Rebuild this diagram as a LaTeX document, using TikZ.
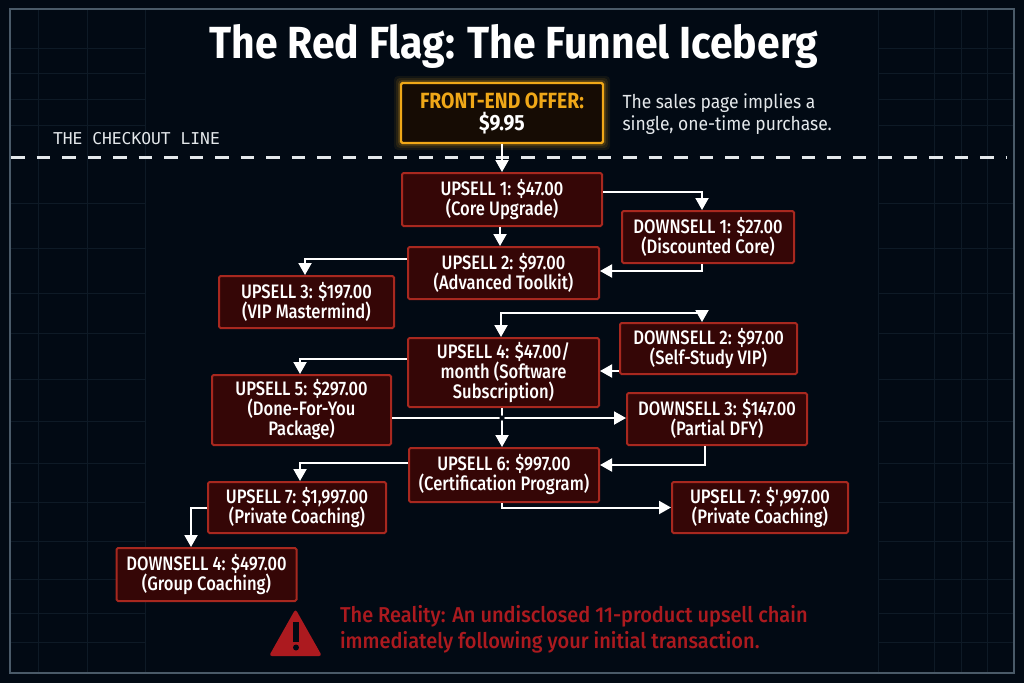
\documentclass[tikz,border=0pt]{standalone}
\usepackage{fontspec}
\setmainfont{Fira Sans}
\newfontfamily\titlefont[FakeStretch=0.91]{Fira Sans}
\newfontfamily\boxfont[FakeStretch=0.85,BoldFont={Fira Sans Medium}]{Fira Sans}
\newfontfamily\offerfont[FakeStretch=0.88]{Fira Sans}
\newfontfamily\sidefont[FakeStretch=0.92]{Fira Sans}
\newfontfamily\alertfont[FakeStretch=0.93,BoldFont={Fira Sans Medium}]{Fira Sans}
\setmonofont{DejaVu Sans Mono}
\usetikzlibrary{arrows.meta}
\definecolor{bgNavy}{HTML}{020A14}
\definecolor{gridLine}{HTML}{0E1A26}
\definecolor{frameLine}{HTML}{4A5A68}
\definecolor{boxFill}{HTML}{350606}
\definecolor{boxLine}{HTML}{A8281F}
\definecolor{offerFill}{HTML}{160C04}
\definecolor{offerLine}{HTML}{F0A818}
\definecolor{alertRed}{HTML}{AC1A1F}
\definecolor{sideGrey}{HTML}{E4E8EB}

\begin{document}
\begin{tikzpicture}[x=1pt,y=-1pt,
    sellbox/.style={draw=boxLine,fill=boxFill,line width=2pt,rounded corners=1.5pt,
      inner sep=0pt,align=center,text=white,
      font=\boxfont\bfseries\fontsize{19.5}{20}\selectfont},
    flow/.style={draw=white,line width=2pt,-{Triangle[length=12pt,width=13pt]}},
    gridrule/.style={draw=gridLine,line width=0.7pt}]
\useasboundingbox (0,0) rectangle (1024,683);
\fill[bgNavy] (0,0) rectangle (1024,683);

% --- Background grid panels ---
\foreach \gx in {38,87,145,878,934,961,987} {
  \draw[gridrule] (\gx,10) -- (\gx,672);
}
\foreach \gy in {48,73,99,125,203,248,293,333,379,421,463,502,541,579,613,642} {
  \draw[gridrule] (11,\gy) -- (145,\gy);
  \draw[gridrule] (878,\gy) -- (1013,\gy);
}
\draw[frameLine,line width=1.2pt] (10,9) rectangle (1014,673);

% --- Title and checkout line ---
\node[font=\titlefont\bfseries\fontsize{45}{48}\selectfont,text=white] (title) at (514,46)
    {The Red Flag: The Funnel Iceberg};
\node[font=\ttfamily\fontsize{16.3}{18}\selectfont,text=sideGrey,anchor=west] (checkout) at (49.5,139)
    {THE CHECKOUT LINE};
\coordinate (checkL) at (11,157.5);
\coordinate (checkR) at (1007,157.5);
\draw[sideGrey,line width=3pt,dash pattern=on 13.5pt off 12pt] (checkL) -- (checkR);

% --- Front-end offer ---
\foreach \glow/\gop in {14/0.07,10/0.10,6/0.16} {
  \fill[offerLine,opacity=\gop,rounded corners=4pt]
      (401-\glow/2,83-\glow/2) rectangle (603+\glow/2,143+\glow/2);
}
\node[draw=offerLine,fill=offerFill,line width=2.4pt,rounded corners=1.5pt,inner sep=0pt,
    minimum width=202pt,minimum height=60pt,align=center,text=white,
    font=\offerfont\bfseries\fontsize{22}{22}\selectfont] (offer) at (502,113)
    {\textcolor{offerLine}{FRONT-END OFFER:}\\\$9.95};
\node[font=\sidefont\fontsize{19}{22}\selectfont,text=sideGrey,anchor=west,align=left] (sidenote) at (619,114)
    {The sales page implies a\\single, one-time purchase.};

% --- Upsell and downsell boxes ---
\node[sellbox,minimum width=200pt,minimum height=53pt] (up1) at (502,199.5) {UPSELL 1: \$47.00\\(Core Upgrade)};
\node[sellbox,minimum width=172pt,minimum height=52pt] (dn1) at (708,237) {DOWNSELL 1: \$27.00\\(Discounted Core)};
\node[sellbox,minimum width=191pt,minimum height=52pt] (up2) at (503.5,273) {UPSELL 2: \$97.00\\(Advanced Toolkit)};
\node[sellbox,minimum width=175pt,minimum height=52pt] (up3) at (306.5,302) {UPSELL 3: \$197.00\\(VIP Mastermind)};
\node[sellbox,minimum width=177pt,minimum height=51pt] (dn2) at (708.5,348.5) {DOWNSELL 2: \$97.00\\(Self-Study VIP)};
\node[sellbox,minimum width=191pt,minimum height=69pt] (up4) at (503.5,372.5) {UPSELL 4: \$47.00/\\month (Software\\Subscription)};
\node[sellbox,minimum width=179pt,minimum height=70pt] (up5) at (301.5,410) {UPSELL 5: \$297.00\\(Done-For-You\\Package)};
\node[sellbox,minimum width=180pt,minimum height=52pt] (dn3) at (717,419) {DOWNSELL 3: \$147.00\\(Partial DFY)};
\node[sellbox,minimum width=190pt,minimum height=54pt] (up6) at (504,475) {UPSELL 6: \$997.00\\(Certification Program)};
\node[sellbox,minimum width=178pt,minimum height=51pt] (up7a) at (297,507.5) {UPSELL 7: \$1,997.00\\(Private Coaching)};
\node[sellbox,minimum width=176pt,minimum height=51pt] (up7b) at (760,507.5) {UPSELL 7: \$\textquotesingle,997.00\\(Private Coaching)};
\node[sellbox,minimum width=180pt,minimum height=53pt] (dn4) at (206.5,574.5) {DOWNSELL 4: \$497.00\\(Group Coaching)};

% --- Connectors ---
\draw[flow] (offer.south) -- (up1.north);
\draw[flow] ([yshift=7.5pt]up1.east) -| ([xshift=-6pt]dn1.north);
\draw[flow] ([xshift=-2pt]up1.south) -- ([xshift=-3.5pt]up2.north);
\draw[flow] ([xshift=-6pt]dn1.south) |- ([yshift=2pt]up2.east);
\draw[flow] ([yshift=14pt]up2.west) -| ([xshift=-1.5pt]up3.north);
\draw[flow,{Triangle[length=12pt,width=13pt]}-{Triangle[length=12pt,width=13pt]}]
    ([xshift=-2.5pt]up4.north) |- ([xshift=-6.5pt,yshift=9pt]dn2.north) -- ([xshift=-6.5pt]dn2.north);
\draw[flow] ([yshift=-22.5pt]dn2.west) -- ([yshift=1.5pt]up4.east);
\draw[flow] ([yshift=13.5pt]up4.west) -| ([xshift=-1.5pt]up5.north);
\draw[flow] ([yshift=-8pt]up5.east) -- ([yshift=1pt]dn3.west);
\draw[flow] ([xshift=-1.5pt]up4.south) -- ([xshift=-2pt]up6.north);
\draw[flow] ([xshift=-12pt]dn3.south) |- ([yshift=10pt]up6.east);
\draw[flow] ([yshift=12pt]up6.west) -| ([xshift=3pt]up7a.north);
\draw[flow] ([xshift=-2pt]up6.south) |- (up7b.west);
\draw[flow] (up7a.west) -| ([xshift=-15.5pt]dn4.north);
% small break where the two lines cross
\fill[bgNavy] (502,418) circle (2.6);

% --- The reality warning ---
\fill[alertRed,rounded corners=3pt] (295.5,609) -- (322,656) -- (269,656) -- cycle;
\fill[bgNavy] (293.2,622) rectangle (298.8,642);
\fill[bgNavy] (296,647.5) circle (3);
\node[font=\alertfont\bfseries\fontsize{21.5}{26}\selectfont,text=alertRed,anchor=west,align=left] (reality) at (336.5,629)
    {The Reality: An undisclosed 11-product upsell chain\\immediately following your initial transaction.};
\end{tikzpicture}
\end{document}
